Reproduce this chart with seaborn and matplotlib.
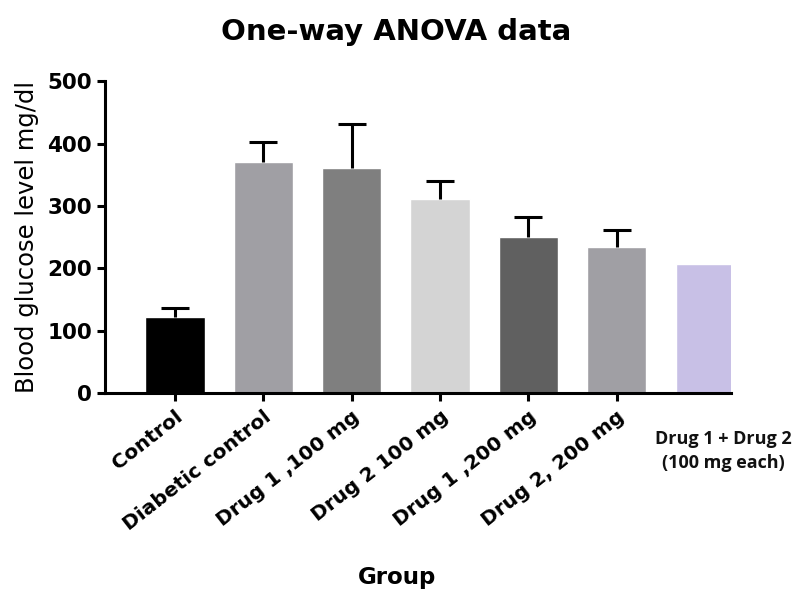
import numpy as np
import seaborn as sns
import matplotlib.pyplot as plt

# ---- data ----
groups = ["Control", "Diabetic control", "Drug 1 ,100 mg", "Drug 2 100 mg",
          "Drug 1 ,200 mg", "Drug 2, 200 mg", "Drug 1 + Drug 2\n(100 mg each)"]
means = [122, 370, 361, 311, 250, 235, 207]
sem_up = [14, 32, 70, 29, 32, 27, 0]
colors = ["#000000", "#a09fa4", "#7f7f7f", "#d4d4d4", "#606060", "#a09fa4", "#c8c0e6"]

sns.set_theme(style="white")
plt.rcParams["font.family"] = ["DejaVu Sans"]
plt.rcParams.update({"text.color": "black", "axes.labelcolor": "black",
                     "xtick.color": "black", "ytick.color": "black"})

fig = plt.figure(figsize=(8.03, 5.93), dpi=100)
ax = fig.add_axes([0.131, 0.337, 0.779, 0.526])

sns.barplot(x=groups, y=means, hue=groups, palette=colors, legend=False,
            width=0.67, saturation=1, ax=ax)

# one-sided (upper) error bars, skipping the group without one
pos = np.arange(len(groups))
has_err = np.array(sem_up) > 0
eb = ax.errorbar(pos[has_err], np.array(means)[has_err],
                 yerr=[np.zeros(has_err.sum()), np.array(sem_up)[has_err]],
                 fmt="none", ecolor="black", elinewidth=2.2, capsize=10, capthick=2.2)
eb[1][0].set_visible(False)  # hide the lower caps

ax.set_ylim(0, 500)
ax.set_xlim(-0.79, 6.29)
ax.set_yticks([0, 100, 200, 300, 400, 500])
ax.set_yticklabels(["0", "100", "200", "300", "400", "500"],
                   fontsize=15.5, fontweight="bold")

# the first six groups get rotated tick labels, the last one a plain text block
ax.set_xticks(pos[:-1])
ax.set_xticklabels(groups[:-1], rotation=38, ha="right", rotation_mode="anchor",
                   fontsize=14.5, fontweight="bold")
ax.text(6.21, -0.186, groups[-1], transform=ax.get_xaxis_transform(),
        ha="center", va="center", fontsize=13, fontweight="bold",
        family=["Open Sans", "DejaVu Sans"], color="#111111", linespacing=1.45)

for s in ["top", "right"]:
    ax.spines[s].set_visible(False)
for s in ["left", "bottom"]:
    ax.spines[s].set_linewidth(2.2)
    ax.spines[s].set_color("black")
ax.tick_params(axis="both", direction="out", length=6, width=2.2, color="black",
               bottom=True, left=True)
ax.tick_params(axis="x", pad=4)

ax.set_ylabel("Blood glucose level mg/dl", fontsize=17.5, labelpad=6)
ax.set_xlabel("Group", fontsize=16.5, fontweight="bold")
ax.xaxis.set_label_coords(0.466, -0.555)
fig.suptitle("One-way ANOVA data", fontsize=21, fontweight="bold", x=0.493, y=0.97)

fig.savefig("out.png", dpi=100)
